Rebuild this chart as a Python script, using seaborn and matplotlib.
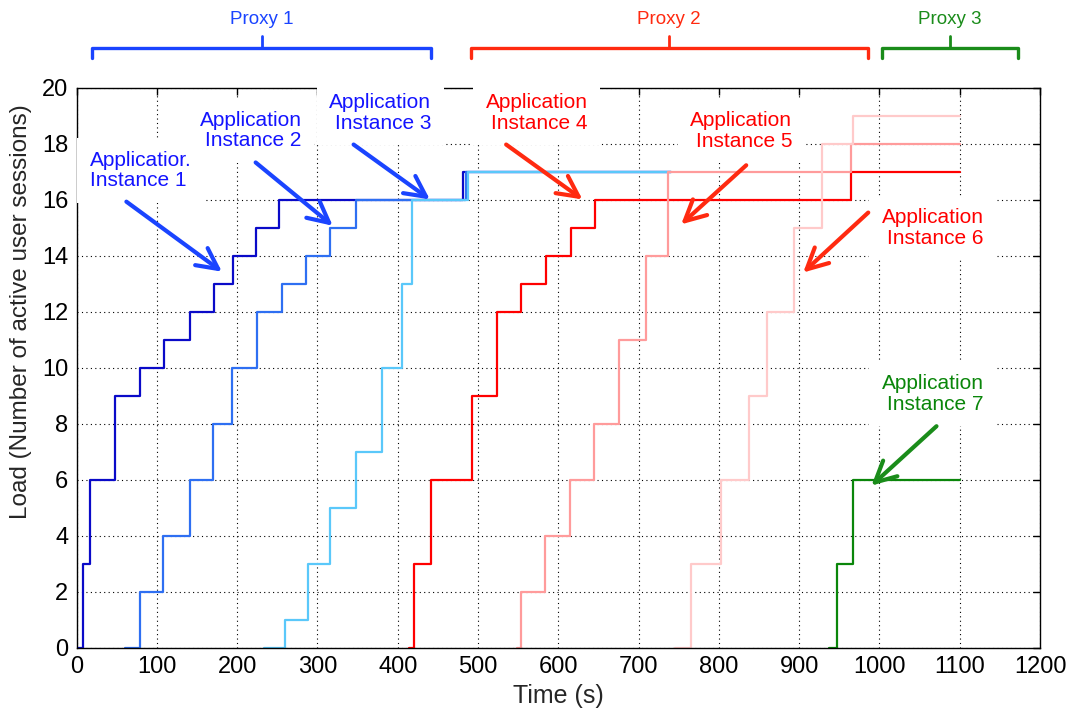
import pandas as pd
import matplotlib
matplotlib.use('Agg')
import matplotlib.pyplot as plt
import seaborn as sns

# step data: time at which each instance's load changes, load after the change
t1 = [0, 8, 17, 48, 79, 109, 141, 171, 195, 224, 252, 481, 740]
y1 = [0, 3, 6, 9, 10, 11, 12, 13, 14, 15, 16, 17, 17]
t2 = [60, 79, 108, 141, 170, 194, 225, 256, 286, 315, 348, 485, 740]
y2 = [0, 2, 4, 6, 8, 10, 12, 13, 14, 15, 16, 17, 17]
t3 = [234, 259, 288, 315, 348, 380, 405, 418, 488, 740]
y3 = [0, 1, 3, 5, 7, 10, 13, 16, 17, 17]
t4 = [414, 420, 442, 492, 524, 553, 585, 616, 646, 965, 1100]
y4 = [0, 3, 6, 9, 12, 13, 14, 15, 16, 17, 17]
t5 = [549, 553, 584, 615, 644, 676, 709, 737, 965, 1100]
y5 = [0, 2, 4, 6, 8, 11, 14, 17, 18, 18]
t6 = [745, 765, 803, 837, 860, 893, 929, 967, 1100]
y6 = [0, 3, 6, 9, 12, 15, 18, 19, 19]
t7 = [937, 947, 967, 1100]
y7 = [0, 3, 6, 6]

instances = ['1', '2', '3', '4', '5', '6', '7']
colors = ['#0a0ac8', '#2e6ff2', '#5ac8fa', '#ff0000', '#ff9b9b', '#ffcaca', '#0a860a']

frames = []
for name, t, y in zip(instances, [t1, t2, t3, t4, t5, t6, t7], [y1, y2, y3, y4, y5, y6, y7]):
    frames.append(pd.DataFrame({'time': t, 'load': y, 'instance': name}))
df = pd.concat(frames, ignore_index=True)

sns.set_style("white")
plt.rcParams['font.family'] = ['Liberation Sans', 'DejaVu Sans']

fig = plt.figure(figsize=(10.73, 7.13), dpi=100)
ax = fig.add_axes([0.0714, 0.0912, 0.8979, 0.7854])

sns.lineplot(data=df, x='time', y='load', hue='instance', hue_order=instances,
             palette=dict(zip(instances, colors)), drawstyle='steps-post',
             estimator=None, sort=False, linewidth=1.6, legend=False, ax=ax)

ax.set_xlim(0, 1200)
ax.set_ylim(0, 20)
ax.set_xticks(range(0, 1201, 100))
ax.set_yticks(range(0, 21, 2))
ax.grid(True, linestyle=(0, (1, 3)), color='black', linewidth=0.8)
ax.tick_params(direction='in', top=True, right=True, length=5, width=1,
               labelsize=17, colors='black', pad=6)
for s in ax.spines.values():
    s.set_color('black')
    s.set_linewidth(1)
ax.set_xlabel('Time (s)', fontsize=18)
ax.set_ylabel('Load (Number of active user sessions)', fontsize=17.5)
ax.yaxis.set_label_coords(-0.046, 0.60)

# annotations: label text, text position, arrow tail, arrow head, alignment, colors
blue_t, red_t, green_t = '#1414ff', '#ff0000', '#0a860a'
blue_a, red_a, green_a = '#1a44ff', '#ff2a10', '#1a8c1a'
notes = [
    ('Applicatior.\nInstance 1', (80, 17.06), (62, 15.94), (181, 13.44), 'left', blue_t, blue_a),
    ('Application\nInstance 2', (217, 18.49), (223, 17.34), (319, 15.08), 'right', blue_t, blue_a),
    ('Application\nInstance 3', (378, 19.1), (345, 17.98), (440, 16.02), 'right', blue_t, blue_a),
    ('Application\nInstance 4', (573, 19.1), (535, 17.98), (630, 16.02), 'right', red_t, red_a),
    ('Application\nInstance 5', (828, 18.47), (834, 17.24), (753, 15.13), 'right', red_t, red_a),
    ('Application\nInstance 6', (1066, 15.0), (986, 15.55), (905, 13.41), 'right', red_t, red_a),
    ('Application\nInstance 7', (1066, 9.07), (1071, 7.92), (990, 5.8), 'right', green_t, green_a),
]
for label, pos, tail, head, align, tc, ac in notes:
    ax.text(pos[0], pos[1], label, ha='center', va='center', multialignment=align,
            fontsize=15, color=tc, linespacing=1.1, zorder=4, clip_on=False,
            bbox=dict(facecolor='white', edgecolor='none', pad=9))
    ax.annotate('', xy=head, xytext=tail,
                arrowprops=dict(arrowstyle='->,head_length=0.75,head_width=0.38',
                                color=ac, lw=3, mutation_scale=20,
                                shrinkA=0, shrinkB=0), zorder=5)

# proxy brackets above the axes
proxies = [('Proxy 1', 19, 441, 231, blue_a), ('Proxy 2', 491, 986, 738, red_a),
           ('Proxy 3', 1003, 1172, 1088, green_a)]
for label, x0, x1, xm, c in proxies:
    ax.plot([x0, x0, x1, x1], [21.07, 21.43, 21.43, 21.07], color=c, lw=2.4,
            clip_on=False, solid_joinstyle='round')
    ax.plot([xm, xm], [21.43, 21.86], color=c, lw=2.0, clip_on=False)
    ax.text(xm, 22.43, label, ha='center', va='center', fontsize=13.5, color=c,
            clip_on=False)

fig.savefig('out.png', dpi=100)
